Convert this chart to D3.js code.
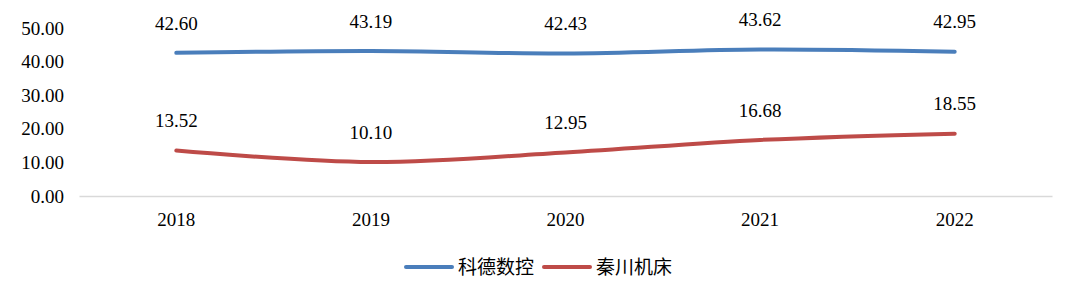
<!DOCTYPE html>
<html>
<head>
<meta charset="utf-8">
<script src="https://cdn.jsdelivr.net/npm/d3@7/dist/d3.min.js"></script>
<style>
  body { margin: 0; background: #fff; }
  svg { display: block; }
</style>
</head>
<body>
<div id="chart"></div>
<script>
var years = ['2018', '2019', '2020', '2021', '2022'];
var kedeValues = [42.60, 43.19, 42.43, 43.62, 42.95];
var qinchuanValues = [13.52, 10.10, 12.95, 16.68, 18.55];
var seriesNames = ['科德数控', '秦川机床'];
var yTicks = [0, 10, 20, 30, 40, 50];

var svgWidth = 1080;
var svgHeight = 303;
var colors = ['#4a7ebb', '#be4b48'];
var serif = "'Liberation Serif', serif";
var numSize = 19;

var svg = d3.select('#chart').append('svg')
  .attr('width', svgWidth)
  .attr('height', svgHeight);

var xScale = d3.scaleBand()
  .domain(years)
  .range([79, 1052]);
var yScale = d3.scaleLinear()
  .domain([0, 50])
  .range([196, 28]);

// y labels, no axis line
svg.append('g')
  .selectAll('text')
  .data(yTicks)
  .enter().append('text')
  .attr('x', 64)
  .attr('y', function (d) { return yScale(d); })
  .attr('dy', '0.35em')
  .attr('text-anchor', 'end')
  .attr('font-family', serif)
  .attr('font-size', numSize)
  .attr('fill', '#000')
  .text(function (d) { return d.toFixed(2); });

// x axis line
var xAxis = d3.axisBottom(xScale).tickSize(0).tickPadding(17);
var gx = svg.append('g')
  .attr('transform', 'translate(0,' + yScale(0) + ')')
  .call(xAxis)
  .attr('font-family', serif)
  .attr('font-size', numSize);
gx.select('.domain').attr('stroke', '#d9d9d9').attr('stroke-width', 1.3);
gx.selectAll('text').attr('fill', '#000');

var line = d3.line()
  .x(function (d, i) { return xScale(years[i]) + xScale.bandwidth() / 2; })
  .y(function (d) { return yScale(d); })
  .curve(d3.curveCatmullRom.alpha(0.5));

[kedeValues, qinchuanValues].forEach(function (vals, k) {
  svg.append('path')
    .datum(vals)
    .attr('fill', 'none')
    .attr('stroke', colors[k])
    .attr('stroke-width', 4)
    .attr('stroke-linecap', 'round')
    .attr('d', line);

  svg.append('g')
    .selectAll('text')
    .data(vals)
    .enter().append('text')
    .attr('x', function (d, i) { return xScale(years[i]) + xScale.bandwidth() / 2; })
    .attr('y', function (d) { return yScale(d) - 30; })
    .attr('dy', '0.35em')
    .attr('text-anchor', 'middle')
    .attr('font-family', serif)
    .attr('font-size', numSize)
    .attr('fill', '#000')
    .text(function (d) { return d.toFixed(2); });
});

// legend
var legendX = [406, 544];
var legend = svg.append('g');
seriesNames.forEach(function (name, k) {
  legend.append('line')
    .attr('x1', legendX[k]).attr('x2', legendX[k] + 46)
    .attr('y1', 267).attr('y2', 267)
    .attr('stroke', colors[k])
    .attr('stroke-width', 4)
    .attr('stroke-linecap', 'round');
  legend.append('text')
    .attr('x', legendX[k] + 52)
    .attr('y', 267)
    .attr('dy', '0.35em')
    .attr('font-family', "'Noto Sans CJK SC', sans-serif")
    .attr('font-size', 19)
    .attr('fill', '#000')
    .text(name);
});
</script>
</body>
</html>
